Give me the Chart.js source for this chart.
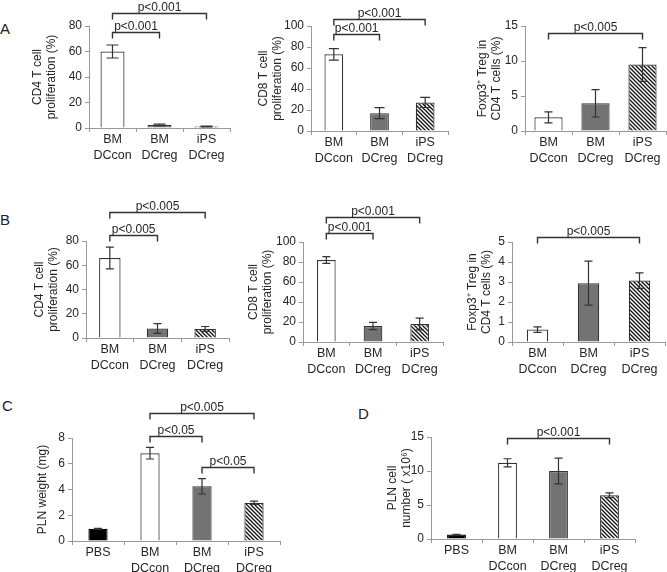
<!DOCTYPE html>
<html>
<head>
<meta charset="utf-8">
<script src="https://cdn.jsdelivr.net/npm/chart.js@4.4.1/dist/chart.umd.min.js"></script>
<style>
body { margin: 0; background: #fff; }
#fig { position: relative; width: 667px; height: 572px; overflow: hidden; }
#fig canvas { position: absolute; }
.lab { position: absolute; font: 15px 'Liberation Sans', sans-serif; color: #222; }
</style>
</head>
<body>
<div id="fig">
  <div class="lab" style="left:0px;top:20px">A</div>
  <div class="lab" style="left:0px;top:211px">B</div>
  <div class="lab" style="left:2px;top:397px">C</div>
  <div class="lab" style="left:358px;top:405px">D</div>
</div>
<script>
const groups3 = [['BM', 'DCcon'], ['BM', 'DCreg'], ['iPS', 'DCreg']];
const groups4 = ['PBS', ['BM', 'DCcon'], ['BM', 'DCreg'], ['iPS', 'DCreg']];

// A - in vitro, BM vs iPS derived DC
const a1Mean = [60, 2.4, 1.2];
const a1Err = [5.1, 0.7, 0.3];
const a2Mean = [73, 17, 27.2];
const a2Err = [5.5, 5.2, 4.8];
const a3Mean = [1.95, 3.95, 9.5];
const a3Err = [0.78, 1.95, 2.4];
// B
const b1Mean = [66, 7.8, 7.5];
const b1Err = [9, 4, 2];
const b2Mean = [82, 16, 18];
const b2Err = [3.3, 3.7, 5.8];
const b3Mean = [0.62, 2.94, 3.07];
const b3Err = [0.14, 1.1, 0.39];
// C - PLN weight, D - PLN cell number
const cMean = [0.95, 6.82, 4.25, 2.97];
const cErr = [0.04, 0.45, 0.6, 0.12];
const dMean = [0.65, 11.2, 10.0, 6.43];
const dErr = [0.05, 0.6, 1.9, 0.35];

// significance: [from group, to group, label]
const a1Sig = [[0, 1, 'p<0.001'], [0, 2, 'p<0.001']];
const a2Sig = [[0, 1, 'p<0.001'], [0, 2, 'p<0.001']];
const a3Sig = [[0, 2, 'p<0.005']];
const b1Sig = [[0, 1, 'p<0.005'], [0, 2, 'p<0.005']];
const b2Sig = [[0, 1, 'p<0.001'], [0, 2, 'p<0.001']];
const b3Sig = [[0, 2, 'p<0.005']];
const cSig = [[1, 2, 'p<0.05'], [1, 3, 'p<0.005'], [2, 3, 'p<0.05']];
const dSig = [[1, 3, 'p<0.001']];

const FONT = "'Liberation Sans Narrow', 'Liberation Sans', sans-serif";
const NUMFONT = "'Liberation Sans', sans-serif";
const AXIS = '#9a9a9a';
const INK = '#262626';

function hatch() {
  const s = 4;
  const c = document.createElement('canvas');
  c.width = s; c.height = s;
  const g = c.getContext('2d');
  g.fillStyle = '#fff';
  g.fillRect(0, 0, s, s);
  g.strokeStyle = '#111';
  g.lineWidth = 1.3;
  g.beginPath();
  g.moveTo(0, 0); g.lineTo(s, s);
  g.moveTo(-1, s - 1); g.lineTo(1, s + 1);
  g.moveTo(s - 1, -1); g.lineTo(s + 1, 1);
  g.stroke();
  return g.createPattern(c, 'repeat');
}
const stripes = hatch();
const fill3 = ['#ffffff', '#737373', stripes];
const fill4 = ['#000000', '#ffffff', '#737373', stripes];

const errorBars = {
  id: 'errorBars',
  afterDatasetsDraw(chart, args, opts) {
    const err = opts.values;
    if (!err) return;
    const y = chart.scales.y, ctx = chart.ctx;
    const mean = chart.data.datasets[0].data;
    const w = opts.cap || 4;
    ctx.save();
    ctx.strokeStyle = '#333';
    ctx.lineWidth = 1.2;
    chart.getDatasetMeta(0).data.forEach((bar, i) => {
      const top = y.getPixelForValue(mean[i] + err[i]);
      const bot = y.getPixelForValue(mean[i] - err[i]);
      ctx.beginPath();
      ctx.moveTo(bar.x, top); ctx.lineTo(bar.x, bot);
      ctx.moveTo(bar.x - w, top); ctx.lineTo(bar.x + w, top);
      ctx.moveTo(bar.x - w, bot); ctx.lineTo(bar.x + w, bot);
      ctx.stroke();
    });
    ctx.restore();
  }
};

const brackets = {
  id: 'brackets',
  afterDraw(chart, args, opts) {
    const items = opts.items || [];
    const x = chart.scales.x, y = chart.scales.y, ctx = chart.ctx;
    ctx.save();
    ctx.strokeStyle = '#333';
    ctx.lineWidth = 1.4;
    ctx.fillStyle = INK;
    ctx.font = '12px ' + FONT;
    ctx.textAlign = 'center';
    ctx.textBaseline = 'alphabetic';
    items.forEach((b, k) => {
      const x1 = x.getPixelForValue(b[0]);
      const x2 = x.getPixelForValue(b[1]);
      const yy = Math.round(y.getPixelForValue(opts.levels[k])) + 0.5;
      ctx.beginPath();
      ctx.moveTo(x1, yy + 6); ctx.lineTo(x1, yy); ctx.lineTo(x2, yy); ctx.lineTo(x2, yy + 6);
      ctx.stroke();
      ctx.fillText(b[2], (x1 + x2) / 2, yy - 3);
    });
    ctx.restore();
  }
};

// box: canvas [left, top, width, height]; plot: [left, top, right, bottom]
const panels = [
  {box: [0, 0, 235, 175], plot: [89, 26, 230, 128], max: 80, step: 20, labels: groups3, mean: a1Mean, err: a1Err, cap: 6,
   sig: a1Sig, levels: [75, 90], title: ['CD4 T cell', 'proliferation (%)'], tpad: 30, bar: 0.51, fill: fill3},
  {box: [235, 0, 215, 175], plot: [311, 26, 448, 131], max: 100, step: 20, labels: groups3, mean: a2Mean, err: a2Err, cap: 5,
   sig: a2Sig, levels: [92, 107], title: ['CD8 T cell', 'proliferation (%)'], tpad: 21, bar: 0.41, fill: fill3},
  {box: [450, 0, 217, 175], plot: [525, 26, 666, 131], max: 15, step: 5, labels: groups3, mean: a3Mean, err: a3Err, cap: 4,
   sig: a3Sig, levels: [14], title: ['Foxp3\u207A Treg in', 'CD4 T cells (%)'], tpad: 25, bar: 0.6, fill: fill3},
  {box: [0, 190, 235, 190], plot: [86, 241, 229, 338], max: 80, step: 20, labels: groups3, mean: b1Mean, err: b1Err, cap: 4,
   sig: b1Sig, levels: [85, 104], title: ['CD4 T cell', 'proliferation (%)'], tpad: 32, bar: 0.45, fill: fill3},
  {box: [235, 190, 215, 190], plot: [303, 242, 443, 342], max: 100, step: 20, labels: groups3, mean: b2Mean, err: b2Err, cap: 4,
   sig: b2Sig, levels: [109, 125], title: ['CD8 T cell', 'proliferation (%)'], tpad: 11, bar: 0.4, fill: fill3},
  {box: [450, 190, 217, 190], plot: [512, 242, 665, 342], max: 5, step: 1, labels: groups3, mean: b3Mean, err: b3Err, cap: 4,
   sig: b3Sig, levels: [5.25], title: ['Foxp3\u207A Treg in', 'CD4 T cells (%)'], tpad: 15, bar: 0.42, fill: fill3},
  {box: [0, 390, 330, 182], plot: [72, 438, 280, 541], max: 8, step: 2, labels: groups4, mean: cMean, err: cErr, cap: 4,
   sig: cSig, levels: [8.16, 9.94, 5.75], title: 'PLN weight (mg)', tpad: 35, bar: 0.37, fill: fill4},
  {box: [330, 390, 337, 182], plot: [431, 437, 635, 539], max: 15, step: 5, labels: groups4, mean: dMean, err: dErr, cap: 4,
   sig: dSig, levels: [14.85], title: ['PLN cell', 'number ( x10\u2076)'], tpad: 55, bar: 0.37, fill: fill4}
];

const fig = document.getElementById('fig');
panels.forEach(p => {
  const [bx, by, bw, bh] = p.box;
  const [pl, pt, pr, pb] = p.plot;
  const cv = document.createElement('canvas');
  cv.width = bw; cv.height = bh;
  cv.style.left = bx + 'px'; cv.style.top = by + 'px';
  fig.appendChild(cv);

  new Chart(cv, {
    type: 'bar',
    data: {
      labels: p.labels,
      datasets: [{
        data: p.mean,
        backgroundColor: p.fill,
        borderColor: p.fill.map(f => f === '#000000' ? '#000' : '#333'),
        borderWidth: 1.2,
        barPercentage: p.bar,
        categoryPercentage: 1
      }]
    },
    options: {
      responsive: false,
      animation: false,
      devicePixelRatio: 1,
      layout: { padding: { left: 0, top: pt - by, right: bx + bw - pr, bottom: 0 } },
      plugins: {
        legend: { display: false },
        tooltip: { enabled: false },
        errorBars: { values: p.err, cap: p.cap },
        brackets: { items: p.sig, levels: p.levels }
      },
      scales: {
        x: {
          offset: true,
          afterFit: s => { s.height = by + bh - pb; },
          grid: { offset: true, drawOnChartArea: false, tickLength: 4, color: AXIS },
          border: { color: AXIS, width: 1 },
          ticks: { color: INK, padding: 0, maxRotation: 0, font: { family: FONT, size: 12.5, lineHeight: 1.28 } }
        },
        y: {
          min: 0, max: p.max,
          afterFit: s => { s.width = pl - bx; },
          grid: { drawOnChartArea: false, tickLength: 4, color: AXIS },
          border: { color: AXIS, width: 1 },
          ticks: { stepSize: p.step, color: INK, padding: 3, font: { family: NUMFONT, size: 12 } },
          title: {
            display: true, text: p.title, color: INK,
            padding: { top: p.tpad, bottom: 0 },
            font: { family: FONT, size: 12, lineHeight: 1.2 }
          }
        }
      }
    },
    plugins: [errorBars, brackets]
  });
});
</script>
</body>
</html>
